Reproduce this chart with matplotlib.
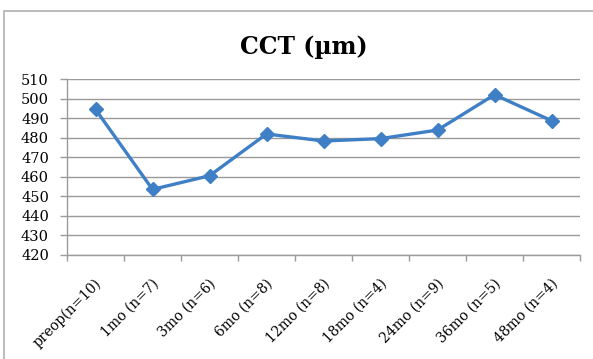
import matplotlib.pyplot as plt
import matplotlib.transforms as mtransforms
from matplotlib.patches import Rectangle

# central corneal thickness over follow-up
visits = ['preop(n=10)', '1mo (n=7)', '3mo (n=6)', '6mo (n=8)', '12mo (n=8)',
          '18mo (n=4)', '24mo (n=9)', '36mo (n=5)', '48mo (n=4)']
cct = [494.6, 453.6, 460.6, 482.0, 478.4, 479.6, 484.0, 502.1, 488.8]
yticks = list(range(420, 511, 10))

grey = '#9a9a9a'
blue = '#3f7fc6'

fig = plt.figure(figsize=(5.93, 3.59), dpi=100)
fig.patch.set_facecolor('white')

# chart border, running off the right and bottom edges
fig.patches.append(Rectangle((4 / 593, -0.2), 1.2, 1.2 - 11 / 359,
                             transform=fig.transFigure, fill=False,
                             edgecolor='#b5b5b5', linewidth=1.3))

ax = fig.add_axes([67 / 593, 1 - 255 / 359, (580 - 67) / 593, (255 - 79.3) / 359])

x = list(range(len(visits)))
ax.plot(x, cct, color=blue, linewidth=2.4, marker='D', markersize=7,
        markerfacecolor=blue, markeredgecolor=blue, zorder=3)

ax.set_xlim(-0.5, len(visits) - 0.5)
ax.set_ylim(420, 510)
ax.set_yticks(yticks)
ax.grid(axis='y', color=grey, linewidth=1.0)
ax.set_axisbelow(True)

for s in ['top', 'right']:
    ax.spines[s].set_visible(False)
for s in ['left', 'bottom']:
    ax.spines[s].set_color(grey)
    ax.spines[s].set_linewidth(1.0)

serif = 'DejaVu Serif'
ax.set_xticks(x)
ax.set_xticks([i - 0.5 for i in range(len(visits) + 1)], minor=True)
ax.tick_params(axis='x', which='major', length=0, pad=19)
ax.tick_params(axis='x', which='minor', length=4, color=grey, width=1.0, direction='out')
ax.set_xticklabels(visits, rotation=45, ha='right', va='center',
                   rotation_mode='anchor', fontsize=10, family=serif)
shift = mtransforms.ScaledTranslation(4 / 100, 0, fig.dpi_scale_trans)
for lbl in ax.get_xticklabels():
    lbl.set_transform(lbl.get_transform() + shift)
ax.tick_params(axis='y', length=5, color=grey, width=1.0, pad=8)
for lbl in ax.get_yticklabels():
    lbl.set_fontsize(10.5)
    lbl.set_family(serif)

fig.text(304 / 593, 1 - 47 / 359, 'CCT (µm)', ha='center', va='center',
         fontsize=17, fontweight='bold', family=serif)

fig.savefig('out.png', dpi=100)
